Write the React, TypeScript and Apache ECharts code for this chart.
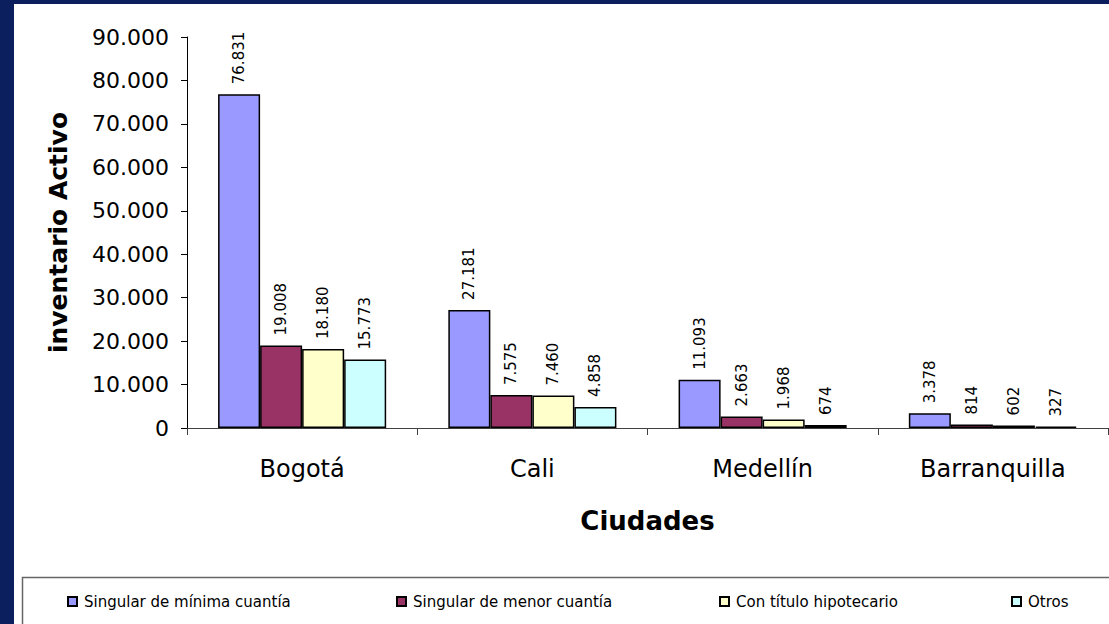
import React, { useEffect, useRef } from "react";
import * as echarts from "echarts";

const categories = ["Bogotá", "Cali", "Medellín", "Barranquilla"];
const seriesNames = [
  "Singular de mínima cuantía",
  "Singular de menor cuantía",
  "Con título hipotecario",
  "Otros",
];
const minimaCuantia = [76831, 27181, 11093, 3378];
const menorCuantia = [19008, 7575, 2663, 814];
const titHipotecario = [18180, 7460, 1968, 602];
const otros = [15773, 4858, 674, 327];
const yTicks = { min: 0, max: 90000, interval: 10000 };
const colors = ["#9999FF", "#993366", "#FFFFCC", "#CCFFFF"];
const legendIconX = [67, 396, 719, 1011];

const fmt = (v: number) =>
  String(Math.round(v)).replace(/\B(?=(\d{3})+(?!\d))/g, ".");

export default function App() {
  const ref = useRef<HTMLDivElement>(null);
  useEffect(() => {
    if (!ref.current) return;
    const chart = echarts.init(ref.current, undefined, { renderer: "svg" });
    const values = [minimaCuantia, menorCuantia, titHipotecario, otros];
    const font = "DejaVu Sans";
    chart.setOption({
      animation: false,
      backgroundColor: "#ffffff",
      textStyle: { fontFamily: font },
      grid: { left: 187, right: 1, top: 37, bottom: 196, containLabel: false },
      graphic: [
        { type: "rect", shape: { x: 0, y: 0, width: 1109, height: 4 }, style: { fill: "#0b1f5e" }, z: 100 },
        { type: "rect", shape: { x: 0, y: 0, width: 14, height: 624 }, style: { fill: "#0b1f5e" }, z: 100 },
        {
          type: "rect",
          shape: { x: 22.5, y: 577.5, width: 1100, height: 60 },
          style: { fill: "none", stroke: "#666666", lineWidth: 1.5 },
          z: 101,
        },
      ],
      legend: seriesNames.map((n, i) => ({
        data: [n],
        left: legendIconX[i],
        top: 594,
        padding: 0,
        icon: "rect",
        itemWidth: 9,
        itemHeight: 9,
        itemGap: 0,
        selectedMode: false,
        textStyle: { fontFamily: font, fontSize: 15, color: "#000", padding: [0, 0, 0, 2] },
      })),
      xAxis: {
        type: "category",
        data: categories,
        name: "Ciudades",
        nameLocation: "middle",
        nameGap: 80,
        nameTextStyle: { fontFamily: font, fontSize: 26, fontWeight: "bold", color: "#000" },
        axisLine: { lineStyle: { color: "#404040", width: 1 } },
        axisTick: { show: true, alignWithLabel: false, length: 7, lineStyle: { color: "#404040" } },
        axisLabel: { fontFamily: font, fontSize: 24, color: "#000", margin: 29 },
      },
      yAxis: {
        type: "value",
        min: yTicks.min,
        max: yTicks.max,
        interval: yTicks.interval,
        name: "inventario Activo",
        nameLocation: "middle",
        nameGap: 116,
        nameRotate: 90,
        nameTextStyle: { fontFamily: font, fontSize: 25, fontWeight: "bold", color: "#000" },
        axisLine: { show: true, lineStyle: { color: "#000", width: 1 } },
        axisTick: { show: true, length: 6, lineStyle: { color: "#000" } },
        splitLine: { show: false },
        axisLabel: {
          fontFamily: font,
          fontSize: 22,
          color: "#000",
          margin: 18,
          formatter: (v: number) => fmt(v),
        },
      },
      series: seriesNames.map((n, i) => ({
        name: n,
        type: "bar",
        data: values[i],
        barGap: "0%",
        barCategoryGap: "27%",
        itemStyle: { color: colors[i], borderColor: "#000", borderWidth: 1.5 },
        label: {
          show: true,
          position: "top",
          rotate: 90,
          align: "left",
          verticalAlign: "middle",
          distance: 10,
          fontFamily: font,
          fontSize: 15,
          color: "#000",
          formatter: (p: any) => fmt(p.value),
        },
      })),
    });
    return () => chart.dispose();
  }, []);
  return (
    <div
      ref={ref}
      style={{ position: "fixed", left: 0, top: 0, width: 1109, height: 624 }}
    />
  );
}
